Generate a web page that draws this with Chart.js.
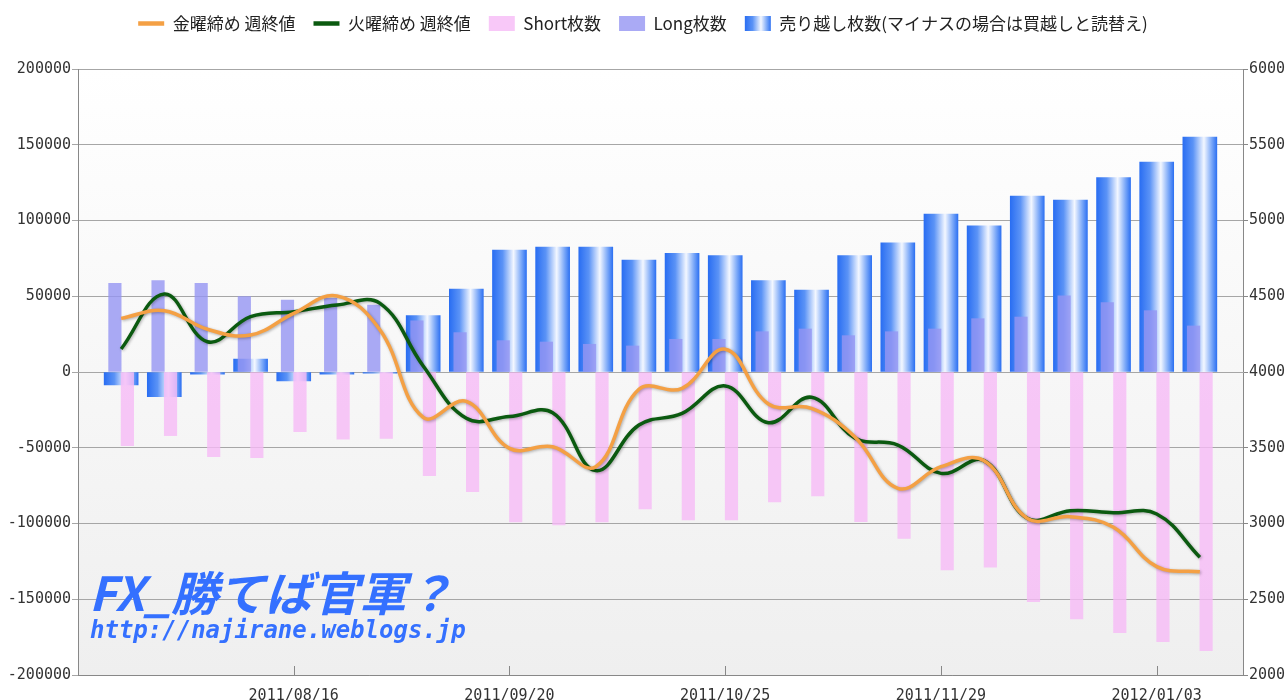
<!DOCTYPE html>
<html>
<head>
<meta charset="utf-8">
<script src="https://cdn.jsdelivr.net/npm/chart.js@4.4.0/dist/chart.umd.min.js"></script>
<style>
  html, body { margin: 0; padding: 0; background: #fff; }
  #wrap { width: 1286px; height: 700px; }
</style>
</head>
<body>
<div id="wrap"><canvas id="chart"></canvas></div>
<script>
// weekly data, 2011/07/19 .. 2012/01/10
const weeks = [
  "2011/07/19", "2011/07/26", "2011/08/02", "2011/08/09", "2011/08/16", "2011/08/23",
  "2011/08/30", "2011/09/06", "2011/09/13", "2011/09/20", "2011/09/27", "2011/10/04",
  "2011/10/11", "2011/10/18", "2011/10/25", "2011/11/01", "2011/11/08", "2011/11/15",
  "2011/11/22", "2011/11/29", "2011/12/06", "2011/12/13", "2011/12/20", "2011/12/27",
  "2012/01/03", "2012/01/10",
];
const tickWeeks = ["2011/08/16", "2011/09/20", "2011/10/25", "2011/11/29", "2012/01/03"];

// right axis (index level)
const fridayClose = [
  4354, 4405, 4282, 4244, 4387, 4502, 4277, 3700, 3806, 3496, 3507, 3375, 3886,
  3892, 4150, 3789, 3760, 3573, 3232, 3375, 3415, 3034, 3045, 2975, 2715, 2682,
];
const tuesdayClose = [
  4152, 4515, 4200, 4365, 4398, 4442, 4453, 4040, 3694, 3706, 3731, 3349, 3650,
  3727, 3908, 3665, 3833, 3564, 3518, 3331, 3415, 3034, 3084, 3071, 3063, 2777,
];

// left axis (lots)
const shortLots = [
  -48600, -42000, -55900, -56500, -39400, -44400, -43800, -68400, -79000, -99000,
  -101000, -99000, -90400, -97700, -97700, -85800, -81800, -98800, -109800, -130700,
  -128900, -151600, -163000, -172000, -178000, -184000,
];
const longLots = [
  58500, 60300, 58500, 49700, 47500, 48600, 44200, 33800, 26000, 20700, 19800, 18300,
  17200, 21600, 21600, 26600, 28400, 24000, 26600, 28400, 35200, 36300, 50200, 45800,
  40500, 30400,
];
const netShort = [
  -8600, -16300, -1500, 8600, -5900, -1500, -800, 37200, 54800, 80500, 82500, 82500,
  73900, 78300, 76800, 60300, 54100, 76800, 85300, 104200, 96400, 116200, 113500,
  128300, 138600, 155000,
];

const pts = (arr) => arr.map((v, i) => ({ x: i, y: v }));
const tickFont = { family: "'DejaVu Sans Mono'", size: 15 };
const NET_W = 34;

function blueGrad(ctx, x0, x1) {
  const g = ctx.createLinearGradient(x0, 0, x1, 0);
  g.addColorStop(0, "#2a6ef2");
  g.addColorStop(0.3, "#5b93f6");
  g.addColorStop(0.62, "#f3f7ff");
  g.addColorStop(0.85, "#79a7f8");
  g.addColorStop(1, "#2f72f2");
  return g;
}

// plot background, x tick marks, line shadows, watermark, legend gradient
const decor = {
  id: "decor",
  beforeInit(chart) {
    const legend = chart.legend;
    const fit = legend.fit;
    legend.fit = function () {
      fit.call(legend);
      legend.height = 72;
    };
  },
  afterUpdate(chart) {
    const legend = chart.legend;
    if (!legend || !legend.legendItems) return;
    legend.legendItems.forEach((item, i) => {
      if (item.datasetIndex === 4 && legend.legendHitBoxes[i]) {
        const hb = legend.legendHitBoxes[i];
        item.fillStyle = blueGrad(chart.ctx, hb.left, hb.left + legend.options.labels.pointStyleWidth);
      }
    });
  },
  beforeDraw(chart) {
    const { ctx, chartArea: a } = chart;
    const g = ctx.createLinearGradient(0, a.top, 0, a.bottom);
    g.addColorStop(0, "#ffffff");
    g.addColorStop(1, "#efefef");
    ctx.save();
    ctx.fillStyle = g;
    ctx.fillRect(a.left, a.top, a.right - a.left, a.bottom - a.top);
    ctx.restore();
  },
  beforeDatasetDraw(chart, args) {
    if (args.meta.type === "line") {
      const ctx = chart.ctx;
      ctx.save();
      ctx.shadowColor = "rgba(0,0,0,0.3)";
      ctx.shadowBlur = 3;
      ctx.shadowOffsetX = 1;
      ctx.shadowOffsetY = 1;
    }
  },
  afterDatasetDraw(chart, args) {
    if (args.meta.type === "line") chart.ctx.restore();
  },
  afterDraw(chart) {
    const { ctx, chartArea: a, scales } = chart;
    ctx.save();
    ctx.strokeStyle = "#888";
    ctx.lineWidth = 1;
    scales.x.ticks.forEach((t) => {
      const x = Math.round(scales.x.getPixelForValue(t.value)) + 0.5;
      ctx.beginPath();
      ctx.moveTo(x, a.bottom);
      ctx.lineTo(x, a.bottom - 9);
      ctx.stroke();
    });
    ctx.fillStyle = "#3470ff";
    ctx.textBaseline = "alphabetic";
    ctx.font = "italic bold 47px 'Noto Sans CJK JP'";
    ctx.fillText("FX_勝てば官軍？", a.left + 11, a.bottom - 64);
    ctx.font = "italic bold 24px 'DejaVu Sans Mono'";
    ctx.fillText("http://najirane.weblogs.jp", a.left + 12, a.bottom - 37);
    ctx.restore();
  },
};

new Chart(document.getElementById("chart"), {
  data: {
    datasets: [
      {
        type: "line",
        label: "金曜締め 週終値",
        data: pts(fridayClose),
        yAxisID: "y2",
        borderColor: "#f4a044",
        backgroundColor: "#f4a044",
        borderWidth: 3.5,
        pointRadius: 0,
        tension: 0.4,
        order: 0,
      },
      {
        type: "line",
        label: "火曜締め 週終値",
        data: pts(tuesdayClose),
        yAxisID: "y2",
        borderColor: "#0b5a10",
        backgroundColor: "#0b5a10",
        borderWidth: 3.5,
        pointRadius: 0,
        tension: 0.4,
        order: 0,
      },
      {
        type: "bar",
        label: "Short枚数",
        data: pts(shortLots),
        yAxisID: "y",
        backgroundColor: "rgba(246,186,246,0.8)",
        borderWidth: 0,
        barThickness: 12.5,
        order: 1.5,
      },
      {
        type: "bar",
        label: "Long枚数",
        data: pts(longLots),
        yAxisID: "y",
        backgroundColor: "rgba(149,149,242,0.8)",
        borderWidth: 0,
        barThickness: 12.5,
        order: 1,
      },
      {
        type: "bar",
        label: "売り越し枚数(マイナスの場合は買越しと読替え)",
        data: pts(netShort),
        yAxisID: "y",
        grouped: false,
        barThickness: NET_W,
        borderWidth: 0,
        order: 2,
        backgroundColor: (c) => {
          if (c.type !== "data") return "#3a7af0";
          const x = c.chart.scales.x.getPixelForValue(c.parsed.x);
          if (!isFinite(x)) return "#3a7af0";
          return blueGrad(c.chart.ctx, x - NET_W / 2, x + NET_W / 2);
        },
      },
    ],
  },
  options: {
    responsive: true,
    maintainAspectRatio: false,
    animation: false,
    layout: { padding: { top: -3, left: 0, right: 0, bottom: 0 } },
    plugins: {
      tooltip: { enabled: false },
      legend: {
        position: "top",
        labels: {
          usePointStyle: true,
          pointStyleWidth: 26,
          boxHeight: 15,
          padding: 18,
          color: "#222",
          font: { family: "'Noto Sans CJK JP'", size: 17 },
          sort: (a, b) => a.datasetIndex - b.datasetIndex,
          generateLabels(chart) {
            const items = Chart.defaults.plugins.legend.labels.generateLabels(chart);
            items.forEach((it) => {
              const ds = chart.data.datasets[it.datasetIndex];
              it.pointStyle = ds.type === "line" ? "line" : "rect";
              if (ds.type === "line") it.lineWidth = 4.5;
            });
            return items;
          },
        },
      },
    },
    scales: {
      x: {
        type: "linear",
        min: -1,
        max: weeks.length,
        offset: false,
        grid: { display: false },
        border: { display: true, color: "#888" },
        afterBuildTicks(scale) {
          scale.ticks = tickWeeks.map((w) => ({ value: weeks.indexOf(w) }));
        },
        afterFit(scale) { scale.height = 25; },
        ticks: {
          font: tickFont,
          color: "#333",
          padding: 4,
          maxRotation: 0,
          autoSkip: false,
          callback: (v) => weeks[v],
        },
      },
      y: {
        position: "left",
        min: -200000,
        max: 200000,
        grid: { color: "#a6a6a6", tickLength: 6 },
        border: { display: true, color: "#888" },
        afterFit(scale) { scale.width = 78; },
        ticks: {
          stepSize: 50000,
          font: tickFont,
          color: "#333",
          padding: 1,
          callback: (v) => String(v),
        },
      },
      y2: {
        position: "right",
        min: 2000,
        max: 6000,
        grid: { drawOnChartArea: false, color: "#888", tickLength: 5 },
        border: { display: true, color: "#888" },
        afterFit(scale) { scale.width = 43; },
        ticks: {
          stepSize: 500,
          font: tickFont,
          color: "#333",
          padding: 1,
          callback: (v) => String(v),
        },
      },
    },
  },
  plugins: [decor],
});
</script>
</body>
</html>
